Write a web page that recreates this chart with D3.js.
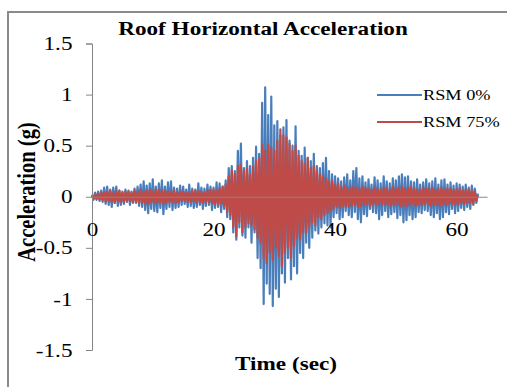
<!DOCTYPE html>
<html>
<head>
<meta charset="utf-8">
<script src="https://cdn.jsdelivr.net/npm/d3@7"></script>
<style>
  html, body { margin: 0; padding: 0; background: #fff; }
  svg { display: block; }
  svg text { font-family: "Liberation Serif", "Times New Roman", serif; }
</style>
</head>
<body>
<div id="chart"></div>
<script>
// Sample interval of the record (sec)
const sampleStep = 0.25;

// Roof acceleration peaks (g), every 0.25 s
const rsm0 = [
  0.02,-0.03,0.04,-0.03, 0.05,-0.04,0.06,-0.05, 0.09,-0.07,0.1,-0.08, 0.07,-0.1,0.09,-0.06,
  0.1,-0.09,0.06,-0.08, 0.05,-0.07,0.07,-0.05, 0.06,-0.08,0.05,-0.06, 0.08,-0.06,0.1,-0.09,
  0.12,-0.1,0.15,-0.13, 0.11,-0.16,0.13,-0.12, 0.17,-0.14,0.1,-0.15, 0.13,-0.11,0.16,-0.17,
  0.1,-0.12,0.14,-0.1, 0.15,-0.13,0.09,-0.11, 0.08,-0.1,0.11,-0.08, 0.1,-0.07,0.07,-0.1,
  0.12,-0.09,0.08,-0.11, 0.07,-0.1,0.13,-0.08, 0.09,-0.12,0.08,-0.09, 0.12,-0.08,0.1,-0.13,
  0.09,-0.11,0.14,-0.1, 0.13,-0.15,0.1,-0.12, 0.16,-0.2,0.28,-0.22, 0.3,-0.35,0.25,-0.42,
  0.45,-0.3,0.52,-0.38, 0.28,-0.4,0.35,-0.3, 0.3,-0.45,0.38,-0.35, 0.49,-0.6,0.42,-0.7,
  0.92,-1.05,1.07,-0.85, 0.8,-0.95,0.98,-1.07, 0.7,-0.9,0.74,-0.98, 0.6,-0.75,0.68,-0.84,
  0.75,-0.6,0.55,-0.81, 0.5,-0.68,0.69,-0.75, 0.45,-0.55,0.4,-0.6, 0.48,-0.45,0.38,-0.5,
  0.35,-0.4,0.42,-0.33, 0.3,-0.36,0.28,-0.3, 0.33,-0.26,0.38,-0.28, 0.25,-0.3,0.22,-0.2,
  0.2,-0.16,0.18,-0.22, 0.15,-0.2,0.19,-0.14, 0.22,-0.18,0.16,-0.2, 0.25,-0.15,0.28,-0.22,
  0.18,-0.25,0.2,-0.17, 0.14,-0.19,0.17,-0.12, 0.12,-0.15,0.19,-0.16, 0.16,-0.22,0.13,-0.18,
  0.2,-0.14,0.15,-0.2, 0.13,-0.17,0.18,-0.15, 0.16,-0.21,0.2,-0.18, 0.22,-0.25,0.19,-0.23,
  0.2,-0.18,0.15,-0.22, 0.14,-0.2,0.17,-0.15, 0.12,-0.16,0.14,-0.13, 0.17,-0.14,0.13,-0.18,
  0.15,-0.2,0.18,-0.16, 0.12,-0.22,0.16,-0.2, 0.17,-0.15,0.12,-0.17, 0.14,-0.12,0.11,-0.16,
  0.13,-0.14,0.12,-0.11, 0.1,-0.13,0.12,-0.1, 0.09,-0.12,0.11,-0.08, 0.08,-0.06,0.03
];

const rsm75 = [
  0.01,-0.02,0.02,-0.02, 0.03,-0.03,0.04,-0.03, 0.04,-0.05,0.05,-0.04, 0.06,-0.05,0.04,-0.06,
  0.05,-0.04,0.06,-0.05, 0.04,-0.05,0.05,-0.04, 0.05,-0.04,0.04,-0.05, 0.06,-0.05,0.05,-0.06,
  0.07,-0.06,0.05,-0.07, 0.06,-0.07,0.07,-0.05, 0.05,-0.06,0.07,-0.06, 0.07,-0.05,0.06,-0.07,
  0.06,-0.06,0.05,-0.05, 0.05,-0.05,0.06,-0.06, 0.04,-0.05,0.05,-0.04, 0.05,-0.04,0.04,-0.05,
  0.04,-0.05,0.06,-0.04, 0.06,-0.05,0.05,-0.06, 0.05,-0.06,0.04,-0.05, 0.06,-0.05,0.07,-0.06,
  0.07,-0.08,0.06,-0.07, 0.08,-0.07,0.1,-0.09, 0.12,-0.15,0.2,-0.18, 0.26,-0.3,0.22,-0.39,
  0.3,-0.25,0.31,-0.35, 0.25,-0.3,0.28,-0.26, 0.22,-0.28,0.3,-0.32, 0.35,-0.4,0.38,-0.45,
  0.51,-0.6,0.45,-0.65, 0.51,-0.55,0.48,-0.62, 0.45,-0.5,0.55,-0.58, 0.66,-0.68,0.6,-0.55,
  0.58,-0.5,0.52,-0.6, 0.45,-0.48,0.5,-0.4, 0.4,-0.42,0.35,-0.35, 0.32,-0.35,0.38,-0.3,
  0.28,-0.25,0.3,-0.28, 0.25,-0.2,0.22,-0.22, 0.2,-0.18,0.18,-0.16, 0.15,-0.14,0.16,-0.12,
  0.12,-0.1,0.13,-0.11, 0.1,-0.09,0.11,-0.1, 0.09,-0.1,0.08,-0.09, 0.1,-0.08,0.09,-0.1,
  0.08,-0.09,0.1,-0.08, 0.09,-0.07,0.08,-0.09, 0.07,-0.08,0.09,-0.07, 0.08,-0.07,0.07,-0.08,
  0.09,-0.08,0.08,-0.07, 0.07,-0.09,0.1,-0.08, 0.08,-0.07,0.09,-0.1, 0.1,-0.09,0.08,-0.09,
  0.09,-0.08,0.1,-0.07, 0.08,-0.09,0.07,-0.08, 0.07,-0.08,0.09,-0.07, 0.08,-0.07,0.08,-0.09,
  0.09,-0.08,0.07,-0.08, 0.08,-0.09,0.09,-0.07, 0.07,-0.08,0.08,-0.07, 0.08,-0.07,0.07,-0.08,
  0.07,-0.08,0.08,-0.06, 0.06,-0.07,0.07,-0.06, 0.07,-0.06,0.06,-0.07, 0.05,-0.04,0.02
];

const seriesNames = ['RSM 0%', 'RSM 75%'];
const seriesColors = ['#4a7ebb', '#be4b48'];
const xTicks = [0, 20, 40, 60];
const yTicks = [-1.5, -1, -0.5, 0, 0.5, 1, 1.5];

const width = 507, height = 387;
const serif = '"Liberation Serif", "Times New Roman", serif';
// the source image is stretched sideways, so is all of its text
const stretch = 1.22;

const svg = d3.select('#chart')
  .append('svg')
  .attr('width', width)
  .attr('height', height);

// Chart area frame (runs off the right/bottom edge like the source crop)
svg.append('rect')
  .attr('x', 8).attr('y', 12)
  .attr('width', 520).attr('height', 400)
  .attr('fill', '#fff')
  .attr('stroke', '#8a8a8a')
  .attr('stroke-width', 2);

const x = d3.scaleLinear().domain([0, 65]).range([92, 487]);
const y = d3.scaleLinear().domain([-1.5, 1.5]).range([350, 43.5]);

// Series: drawn first so the axes sit on top of them
const line = d3.line()
  .x((d, i) => x(i * sampleStep))
  .y(d => y(d));

[rsm0, rsm75].forEach((values, k) => {
  svg.append('path')
    .datum(values)
    .attr('fill', 'none')
    .attr('stroke', seriesColors[k])
    .attr('stroke-width', 2.2)
    .attr('stroke-linejoin', 'round')
    .attr('d', line);
});

// Y axis
const yAxis = svg.append('g')
  .attr('transform', `translate(${x(0)},0)`)
  .call(d3.axisLeft(y).tickValues(yTicks).tickSize(6).tickPadding(10).tickFormat(d => String(d)));
yAxis.attr('font-family', serif);
yAxis.selectAll('path, line').attr('stroke', '#868686');
yAxis.selectAll('text')
  .attr('fill', '#000')
  .attr('font-size', 19)
  .attr('transform', `scale(${stretch},1)`);

// X axis through zero, labels hang further below
const xAxis = svg.append('g')
  .attr('transform', `translate(0,${y(0)})`)
  .call(d3.axisBottom(x).tickValues(xTicks).tickSize(0).tickPadding(26).tickSizeOuter(0));
xAxis.attr('font-family', serif);
xAxis.select('.domain').attr('stroke', '#868686');
xAxis.selectAll('text')
  .attr('fill', '#000')
  .attr('font-size', 19)
  .attr('transform', `scale(${stretch},1)`);

// Title and axis titles
svg.append('text')
  .attr('transform', `translate(263,35) scale(${stretch},1)`)
  .attr('text-anchor', 'middle')
  .attr('font-weight', 'bold')
  .attr('font-size', 19)
  .text('Roof Horizontal Acceleration');

svg.append('text')
  .attr('transform', `translate(35,192) scale(${stretch},1) rotate(-90)`)
  .attr('text-anchor', 'middle')
  .attr('font-weight', 'bold')
  .attr('font-size', 20.5)
  .text('Acceleration (g)');

svg.append('text')
  .attr('transform', `translate(286,370) scale(${stretch},1)`)
  .attr('text-anchor', 'middle')
  .attr('font-weight', 'bold')
  .attr('font-size', 19)
  .text('Time (sec)');

// Legend
const legend = svg.append('g');
seriesNames.forEach((name, k) => {
  const ly = 95 + k * 27;
  legend.append('line')
    .attr('x1', 377).attr('x2', 422)
    .attr('y1', ly).attr('y2', ly)
    .attr('stroke', seriesColors[k])
    .attr('stroke-width', 2);
  legend.append('text')
    .attr('transform', `translate(423,${ly + 5}) scale(${stretch},1)`)
    .style('font-family', serif)
    .attr('font-size', 15)
    .text(name);
});
</script>
</body>
</html>
